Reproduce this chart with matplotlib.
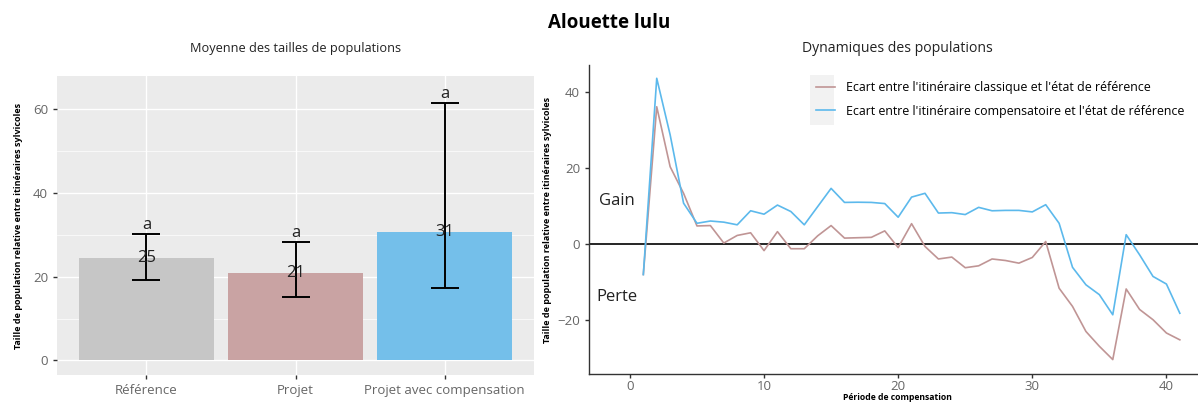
import matplotlib
matplotlib.use("Agg")
import matplotlib.pyplot as plt
from matplotlib.patches import Rectangle

plt.rcParams['font.family'] = ['Open Sans', 'DejaVu Sans']

# --- Mean population sizes ---
categories = ["Référence", "Projet", "Projet avec compensation"]
means = [24.5, 20.9, 30.7]
mean_labels = ["25", "21", "31"]
err_low = [19.2, 15.1, 17.4]
err_high = [30.2, 28.3, 61.6]
groups = ["a", "a", "a"]
bar_colors = ["#C6C6C6", "#C9A3A3", "#74BFEA"]

# --- Population dynamics ---
periods = list(range(1, 42))
classique = [-8.0, 36.2, 20.4, 13.4, 4.8, 4.9, 0.3, 2.3, 3.0, -1.7,
             3.3, -1.2, -1.2, 2.2, 4.9, 1.6, 1.7, 1.8, 3.5, -0.9,
             5.4, -0.6, -3.9, -3.4, -6.2, -5.7, -3.9, -4.3, -5.0, -3.5,
             0.7, -11.6, -16.4, -23.0, -26.9, -30.4, -11.8, -17.2, -19.9, -23.4,
             -25.2]
compensatoire = [-8.0, 43.7, 28.8, 10.8, 5.5, 6.1, 5.8, 5.1, 8.8, 7.9,
                 10.3, 8.6, 5.1, 9.9, 14.7, 11.0, 11.05, 11.0, 10.7, 7.1,
                 12.4, 13.4, 8.2, 8.3, 7.8, 9.7, 8.8, 8.9, 8.9, 8.5,
                 10.4, 5.5, -6.1, -10.7, -13.3, -18.6, 2.5, -2.8, -8.5, -10.5,
                 -18.2]
legend_labels = ["Ecart entre l'itinéraire classique et l'état de référence",
                 "Ecart entre l'itinéraire compensatoire et l'état de référence"]
line_colors = ["#C09595", "#5CB9EC"]

W, H = 1198, 403
fig = plt.figure(figsize=(W / 100, H / 100), dpi=100)

def fx(px):
    return px / W

def fy(py):
    return 1 - py / H

tick_grey = "#666666"

# ---------- left panel ----------
axL = fig.add_axes([fx(57), fy(375), fx(534) - fx(57), fy(76) - fy(375)])
axL.set_facecolor("#EBEBEB")
xs = list(range(len(categories)))
axL.bar(xs, means, width=0.9, color=bar_colors, zorder=2)
yerr = [[m - lo for m, lo in zip(means, err_low)],
        [hi - m for m, hi in zip(means, err_high)]]
axL.errorbar(xs, means, yerr=yerr, fmt="none", ecolor="black",
             elinewidth=1.4, capsize=10, capthick=1.4, zorder=3)
for x, m, lab, hi, g in zip(xs, means, mean_labels, err_high, groups):
    axL.text(x, m, lab, ha="center", va="center", fontsize=12,
             color="#222222", zorder=4)
    axL.text(x, hi + 0.2, g, ha="center", va="bottom", fontsize=12,
             color="#222222", zorder=4)
axL.set_xlim(-0.6, 2.6)
axL.set_ylim(-3.5, 68)
axL.set_yticks([0, 20, 40, 60])
axL.set_yticks([10, 30, 50], minor=True)
axL.set_xticks(xs)
axL.set_xticklabels(categories)
axL.grid(True, which="major", color="white", linewidth=1.0, zorder=0)
axL.grid(True, which="minor", axis="y", color="white", linewidth=0.5, zorder=0)
axL.set_axisbelow(True)
for s in axL.spines.values():
    s.set_visible(False)
axL.tick_params(axis="both", which="major", colors="#333333", labelcolor=tick_grey,
                labelsize=9.5, length=3, width=1)
axL.tick_params(axis="y", which="minor", length=0)
axL.set_ylabel("Taille de population relative entre itinéraires sylvicoles",
               fontsize=6.5, fontweight="bold", labelpad=7)
axL.set_title("Moyenne des tailles de populations", fontsize=9.2, pad=17,
              color="#222222")

# ---------- right panel (extends past the right edge) ----------
axR = fig.add_axes([fx(589), fy(374), fx(1208) - fx(589), fy(65) - fy(374)])
axR.axhline(0, color="black", linewidth=1.2, zorder=1)
l1, = axR.plot(periods, classique, color=line_colors[0], linewidth=1.2, zorder=2)
l2, = axR.plot(periods, compensatoire, color=line_colors[1], linewidth=1.2, zorder=3)
axR.set_xlim(-3.05, 43.1)
axR.set_ylim(-34.2, 47.2)
axR.set_xticks([0, 10, 20, 30, 40])
axR.set_yticks([-20, 0, 20, 40])
axR.spines["top"].set_visible(False)
axR.spines["right"].set_visible(False)
for s in ("left", "bottom"):
    axR.spines[s].set_color("#333333")
    axR.spines[s].set_linewidth(1.0)
axR.tick_params(axis="both", colors="#333333", labelcolor=tick_grey,
                labelsize=9.5, length=3, width=1)
axR.tick_params(axis="x", pad=1.5)
axR.text(-1.0, 11.4, "Gain", ha="center", va="center", fontsize=12, color="#222222")
axR.text(-1.0, -13.8, "Perte", ha="center", va="center", fontsize=12, color="#222222")
axR.set_ylabel("Taille de population relative entre itinéraires sylvicoles",
               fontsize=6.5, fontweight="bold", labelpad=4)
axR.set_title("Dynamiques des populations", fontsize=10.1, pad=9.5, color="#222222",
              x=(fx(897) - fx(589)) / (fx(1208) - fx(589)))

# legend key background
axR.add_patch(Rectangle((fx(810), fy(125)), fx(834) - fx(810), fy(75) - fy(125),
                        transform=fig.transFigure, facecolor="#F2F2F2",
                        edgecolor="none", zorder=4, clip_on=False))
leg = axR.legend([l1, l2], legend_labels, loc="upper left",
                 bbox_to_anchor=(fx(808), fy(73)), bbox_transform=fig.transFigure,
                 frameon=False, fontsize=8.9, handlelength=1.5, handletextpad=0.9,
                 borderpad=0.15, labelspacing=0.85)
leg.set_zorder(6)

fig.text(fx(897), fy(402.5), "Période de compensation", ha="center", va="bottom",
         fontsize=6.2, fontweight="bold")
fig.text(fx(609), fy(23), "Alouette lulu", ha="center", va="center",
         fontsize=13.5, fontweight="bold")

fig.savefig("out.png", dpi=100)
